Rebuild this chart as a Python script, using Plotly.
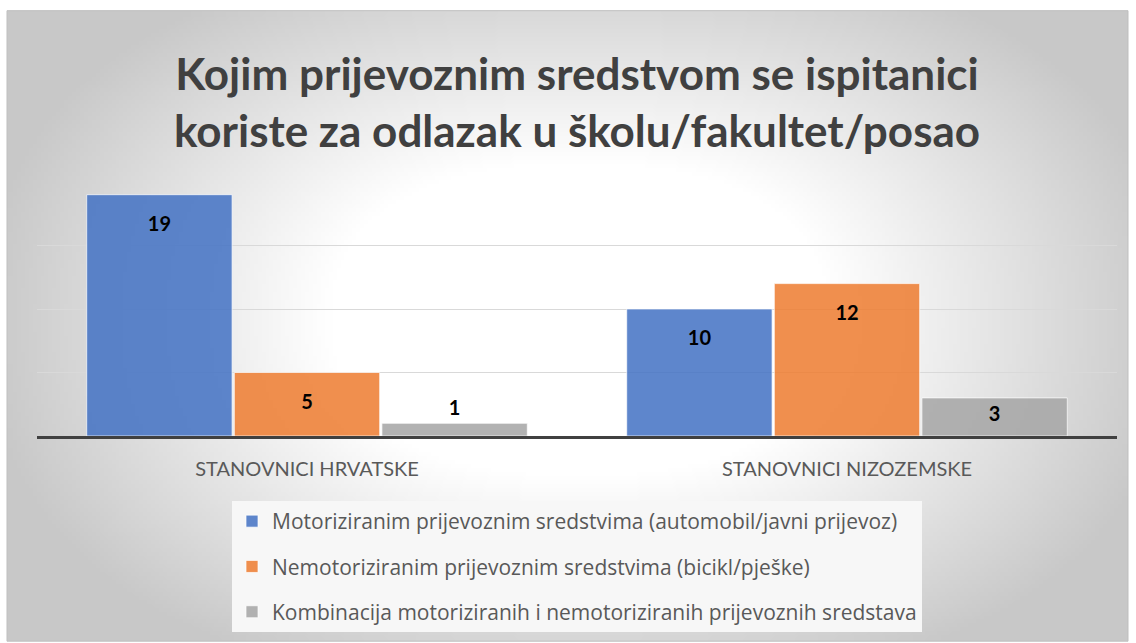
import base64, struct, zlib
import numpy as np
import plotly.graph_objects as go

categories = ["STANOVNICI HRVATSKE", "STANOVNICI NIZOZEMSKE"]
series_names = [
    "Motoriziranim prijevoznim sredstvima (automobil/javni prijevoz)",
    "Nemotoriziranim prijevoznim sredstvima (bicikl/pješke)",
    "Kombinacija motoriziranih i nemotoriziranih prijevoznih sredstava",
]
motorizirano = [19, 10]
nemotorizirano = [5, 12]
kombinacija = [1, 3]
title_text = "Kojim prijevoznim sredstvom se ispitanici<br>koriste za odlazak u školu/fakultet/posao"

colors = ["rgba(68,114,196,0.86)", "rgba(237,125,49,0.86)", "rgba(165,165,165,0.86)"]

W, H = 1136, 643
ML, MR, MT, MB = 37, 19, 182, 206
PW, PH = W - ML - MR, H - MT - MB
BOX = (7, 10, 1128, 643)  # chart box in pixels


def make_png(arr):
    h, w, _ = arr.shape
    raw = b"".join(b"\x00" + arr[i].tobytes() for i in range(h))

    def chunk(tag, data):
        c = struct.pack(">I", len(data)) + tag + data
        return c + struct.pack(">I", zlib.crc32(tag + data) & 0xFFFFFFFF)

    return (b"\x89PNG\r\n\x1a\n" + chunk(b"IHDR", struct.pack(">IIBBBBB", w, h, 8, 2, 0, 0, 0))
            + chunk(b"IDAT", zlib.compress(raw, 9)) + chunk(b"IEND", b""))


# radial background gradient (white centre -> light grey edges)
gw, gh = 284, 158
bx0, by0, bx1, by1 = BOX
xs = np.linspace(bx0, bx1, gw)
ys = np.linspace(by0, by1, gh)
X, Y = np.meshgrid(xs, ys)
cx, cy, rx, ry = 580, 320, 600, 380
p = 2.4
t = (np.abs((X - cx) / rx) ** p + np.abs((Y - cy) / ry) ** p) ** (1 / p)
t = np.clip((t - 0.42) / 0.58, 0, 1)
val = 255 - t * (255 - 0xC8)
img = np.repeat(np.clip(val, 0, 255).astype(np.uint8)[:, :, None], 3, axis=2)
bg_uri = "data:image/png;base64," + base64.b64encode(make_png(np.ascontiguousarray(img))).decode()

fig = go.Figure()
all_series = [motorizirano, nemotorizirano, kombinacija]
for i, (name, vals) in enumerate(zip(series_names, all_series)):
    fig.add_trace(go.Bar(
        x=categories, y=vals, name=name, offsetgroup=str(i), legendgroup=str(i),
        marker=dict(color=colors[i], line=dict(color="rgba(255,255,255,0.7)", width=1)),
        hoverinfo="skip",
    ))
for i, vals in enumerate(all_series):
    pos = ["bottom center" if v >= 3 else "top center" for v in vals]
    sizes = [32 if v >= 5 else (12 if v >= 3 else 4) for v in vals]
    fig.add_trace(go.Scatter(
        x=categories, y=vals, mode="markers+text", text=[str(v) for v in vals],
        textposition=pos, offsetgroup=str(i), showlegend=False, hoverinfo="skip",
        marker=dict(size=sizes, color="rgba(0,0,0,0)", line=dict(width=0)),
        textfont=dict(family="Lato", size=20, color="#000000", weight="bold"),
    ))

fig.update_layout(
    width=W, height=H,
    margin=dict(l=ML, r=MR, t=MT, b=MB, pad=0),
    paper_bgcolor="white", plot_bgcolor="rgba(0,0,0,0)",
    barmode="group", bargap=0.18, bargroupgap=0.015,
    scattermode="group", scattergap=0.18,
    title=dict(text=title_text, x=(ML + PW / 2) / W, xanchor="center",
               y=1 - 90 / H, yanchor="middle", yref="container",
               font=dict(family="Lato", size=44, color="#404040", weight="bold")),
    showlegend=True,
    legend=dict(orientation="v", x=0.5, xanchor="center", y=(437 - 501) / PH, yanchor="top",
                bgcolor="#f7f7f7", font=dict(family="Open Sans", size=21, color="#595959"),
                tracegroupgap=15, itemclick=False),
    images=[dict(source=bg_uri, xref="paper", yref="paper",
                 x=(bx0 - ML) / PW, y=(H - MB - by0) / PH,
                 sizex=(bx1 - bx0) / PW, sizey=(by1 - by0) / PH,
                 xanchor="left", yanchor="top", sizing="stretch", layer="below")],
    shapes=[dict(type="rect", xref="paper", yref="paper",
                 x0=(bx0 - ML) / PW, x1=(bx1 - ML) / PW,
                 y0=(H - MB - by1) / PH, y1=(H - MB - by0) / PH,
                 line=dict(color="#bfbfbf", width=1), fillcolor="rgba(0,0,0,0)", layer="below")],
)
fig.update_yaxes(range=[0, 20], dtick=5, showgrid=True, gridcolor="#d9d9d9", gridwidth=1,
                 showticklabels=False, zeroline=False, showline=False, fixedrange=True)
fig.update_xaxes(showline=True, linecolor="#404040", linewidth=3, ticks="",
                 tickfont=dict(family="Lato", size=20, color="#595959"),
                 ticklabelstandoff=13, fixedrange=True)

fig.write_html("out.html", config={"displayModeBar": False},
               post_script="document.body.style.margin='0';document.body.style.overflow='hidden';")
